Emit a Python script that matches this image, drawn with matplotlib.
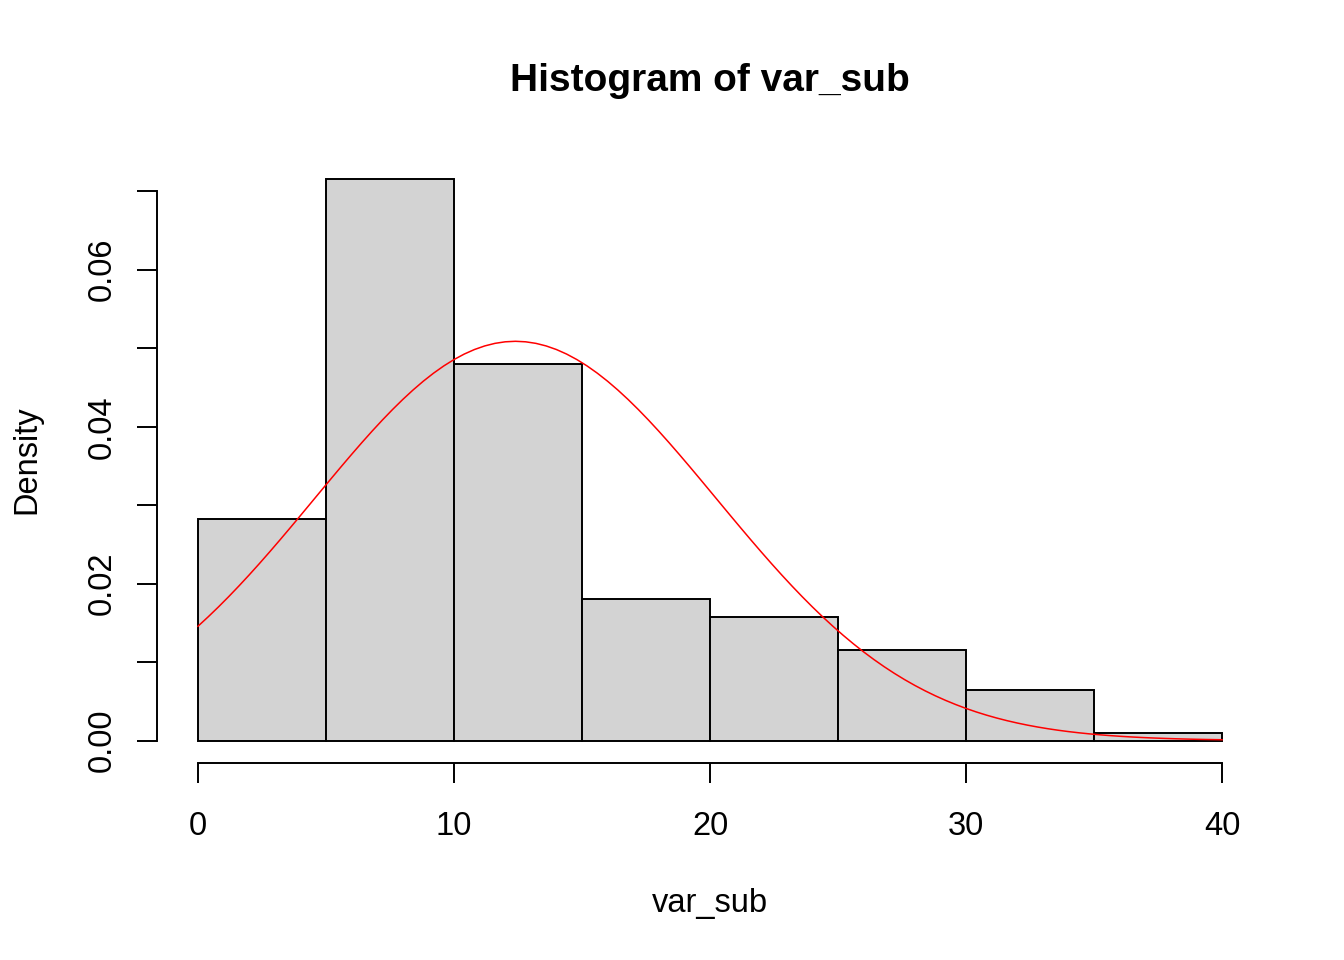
import numpy as np
import matplotlib
matplotlib.use('Agg')
import matplotlib.pyplot as plt

# histogram of var_sub, density scale, with a fitted normal curve on top
bin_edges = [0, 5, 10, 15, 20, 25, 30, 35, 40]
densities = [0.0282, 0.0716, 0.0480, 0.0180, 0.0157, 0.0115, 0.0065, 0.0009]
fit_mean = 12.4
fit_sd = 7.84
x_ticks = [0, 10, 20, 30, 40]
y_major = [0.00, 0.02, 0.04, 0.06]
y_minor = [0.01, 0.03, 0.05, 0.07]

plt.rcParams['font.family'] = ['Liberation Sans', 'DejaVu Sans']

fig = plt.figure(figsize=(13.44, 9.6), dpi=100)
ax = fig.add_axes([157 / 1344, 1 - 763 / 960, (1263 - 157) / 1344, (763 - 156) / 960])

lefts = np.array(bin_edges[:-1])
widths = np.diff(bin_edges)
ax.bar(lefts, densities, width=widths, align='edge', color='#d3d3d3',
       edgecolor='black', linewidth=1.4)

xs = np.linspace(0, 40, 101)
ys = np.exp(-(xs - fit_mean) ** 2 / (2 * fit_sd ** 2)) / (fit_sd * np.sqrt(2 * np.pi))
ax.plot(xs, ys, color='red', linewidth=1.1)

ax.set_xlim(-1.6, 41.6)
ax.set_ylim(-0.00286, 0.0745)

for s in ['top', 'right']:
    ax.spines[s].set_visible(False)
ax.spines['bottom'].set_bounds(0, 40)
ax.spines['left'].set_bounds(0, 0.07)
ax.spines['bottom'].set_linewidth(1.4)
ax.spines['left'].set_linewidth(1.4)

ax.set_xticks(x_ticks)
ax.set_xticklabels([str(t) for t in x_ticks])
ax.set_yticks(y_major)
ax.set_yticklabels(['%.2f' % v for v in y_major])
ax.set_yticks(y_minor, minor=True)
ax.tick_params(axis='both', which='both', length=14.5, width=1.4, labelsize=23.5)
ax.tick_params(axis='x', pad=20)
ax.tick_params(axis='y', pad=14)
for lab in ax.get_yticklabels():
    lab.set_rotation(90)
    lab.set_va('center')

ax.set_xlabel('var_sub', fontsize=23.5, labelpad=33)
ax.set_ylabel('Density', fontsize=23.5, labelpad=32)
fig.suptitle('Histogram of var_sub', fontsize=28, fontweight='bold', x=710 / 1344, y=1 - 81 / 960, va='center')

fig.savefig('out.png', dpi=100)
